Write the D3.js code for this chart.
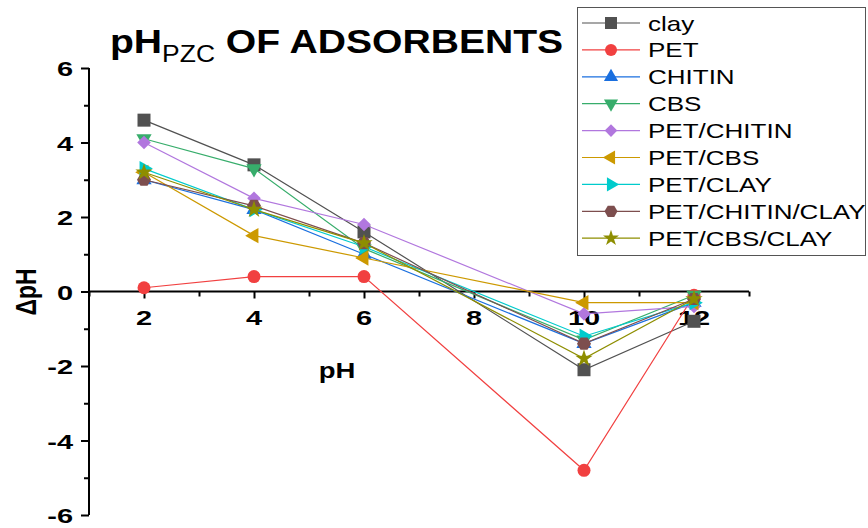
<!DOCTYPE html>
<html>
<head>
<meta charset="utf-8">
<script src="https://d3js.org/d3.v7.min.js"></script>
<style>
  body { margin: 0; background: #fff; }
  text { font-family: "Liberation Sans", Arial, sans-serif; }
</style>
</head>
<body>
<svg width="868" height="528"></svg>
<script>
var phValues = [2, 4, 6, 10, 12];
var seriesNames = ["clay", "PET", "CHITIN", "CBS", "PET/CHITIN", "PET/CBS", "PET/CLAY", "PET/CHITIN/CLAY", "PET/CBS/CLAY"];
var clay = [4.6, 3.4, 1.6, -2.1, -0.8];
var pet = [0.1, 0.4, 0.4, -4.8, -0.1];
var chitin = [3.0, 2.2, 1.0, -1.4, -0.3];
var cbs = [4.1, 3.3, 1.15, -1.3, -0.1];
var petChitin = [4.0, 2.5, 1.8, -0.6, -0.4];
var petCbs = [3.2, 1.5, 0.9, -0.3, -0.3];
var petClay = [3.3, 2.2, 1.2, -1.2, -0.3];
var petChitinClay = [3.0, 2.3, 1.3, -1.4, -0.2];
var petCbsClay = [3.2, 2.2, 1.3, -1.8, -0.2];
var allValues = [clay, pet, chitin, cbs, petChitin, petCbs, petClay, petChitinClay, petCbsClay];
var xTicks = [2, 4, 6, 8, 10, 12];
var yTicks = [-6, -4, -2, 0, 2, 4, 6];

var colors = ["#515151", "#F14040", "#1A6FDF", "#37AD6B", "#B177DE", "#CC9900", "#00CBCC", "#7D4E4E", "#8E8E00"];
var markers = ["square", "circle", "up", "down", "diamond", "left", "right", "hex", "star"];

var svg = d3.select("svg");
var x = d3.scaleLinear().domain([1, 13]).range([89, 749]);
var y = d3.scaleLinear().domain([-6, 6]).range([515, 68]);

function markerPath(kind, size) {
  if (kind === "square") return d3.symbol(d3.symbolSquare, size * size)();
  if (kind === "circle") return d3.symbol(d3.symbolCircle, Math.PI * size * size / 4)();
  if (kind === "diamond") return d3.symbol(d3.symbolSquare, size * size * 0.55)();
  if (kind === "star") return d3.symbol(d3.symbolStar, size * size * 0.55)();
  if (kind === "hex") {
    var r = size / 2 + 0.5, pts = [];
    for (var i = 0; i < 6; i++) {
      var a = Math.PI / 3 * i;
      pts.push([r * Math.cos(a), r * Math.sin(a)]);
    }
    return "M" + pts.join("L") + "Z";
  }
  return d3.symbol(d3.symbolTriangle, size * size * 0.6)();
}
function markerRot(kind) {
  return { down: 180, left: -90, right: 90, diamond: 45 }[kind] || 0;
}

// text that is stretched wider, like the original export
function wideText(px, py, sx, size, bold, anchor, str) {
  return svg.append("text")
    .attr("transform", "translate(" + px + "," + py + ") scale(" + sx + ",1)")
    .attr("text-anchor", anchor)
    .style("font-size", size + "px").style("font-weight", bold ? "bold" : "normal")
    .text(str);
}

// axes
var xAxis = svg.append("g").attr("transform", "translate(0," + y(0) + ")");
xAxis.call(d3.axisBottom(x).tickValues(d3.range(1, 14)).tickSize(5).tickFormat(""));
xAxis.selectAll(".tick line").attr("y2", function(d) { return d % 2 === 0 ? 7 : 5; });
xAxis.select(".domain").attr("stroke-width", 2).attr("d", "M89,0H749");
xAxis.selectAll("line").attr("stroke-width", 2);

var yAxis = svg.append("g").attr("transform", "translate(89,0)");
yAxis.call(d3.axisLeft(y).tickValues(d3.range(-6, 7)).tickSize(5).tickFormat(""));
yAxis.selectAll(".tick line").attr("x2", function(d) { return d % 2 === 0 ? -8 : -5; });
yAxis.select(".domain").attr("stroke-width", 2).attr("d", "M0,515V68");
yAxis.selectAll("line").attr("stroke-width", 2);

// tick labels
xTicks.forEach(function(d) { wideText(x(d), y(0) + 33, 1.38, 21, true, "middle", d); });
yTicks.forEach(function(d) { wideText(73, y(d) + 8, 1.38, 21, true, "end", d); });

// axis titles
wideText(337, 378, 1.25, 22, true, "middle", "pH");
svg.append("text").attr("transform", "translate(36,292) rotate(-90) scale(1,1.3)").attr("text-anchor", "middle")
  .style("font-size", "23px").style("font-weight", "bold").text("ΔpH");

// title
var title = svg.append("text").attr("transform", "translate(110,53) scale(1.15,1)")
  .style("font-size", "34px").style("font-weight", "bold");
title.append("tspan").text("pH");
title.append("tspan").attr("dy", 9).style("font-size", "23px").style("font-weight", "normal").text("PZC");
title.append("tspan").attr("dy", -9).text(" OF ADSORBENTS");

// series
var line = d3.line().x(function(d) { return x(d[0]); }).y(function(d) { return y(d[1]); });
allValues.forEach(function(vals, i) {
  var pts = phValues.map(function(p, j) { return [p, vals[j]]; });
  var g = svg.append("g");
  g.append("path").datum(pts).attr("d", line)
    .attr("fill", "none").attr("stroke", colors[i]).attr("stroke-width", 1.2);
  g.selectAll("path.m").data(pts).enter().append("path").attr("class", "m")
    .attr("d", markerPath(markers[i], 13))
    .attr("transform", function(d) { return "translate(" + x(d[0]) + "," + y(d[1]) + ") rotate(" + markerRot(markers[i]) + ")"; })
    .attr("fill", colors[i]);
});

// legend
var legend = svg.append("g");
legend.append("rect").attr("x", 577.5).attr("y", 7.5).attr("width", 288).attr("height", 248)
  .attr("fill", "#fff").attr("stroke", "#555").attr("stroke-width", 1);
seriesNames.forEach(function(name, i) {
  var cy = 23 + i * 26.9;
  legend.append("line").attr("x1", 582).attr("x2", 640).attr("y1", cy).attr("y2", cy)
    .attr("stroke", colors[i]).attr("stroke-width", 1.2);
  legend.append("path").attr("d", markerPath(markers[i], 12))
    .attr("transform", "translate(611," + cy + ") rotate(" + markerRot(markers[i]) + ")")
    .attr("fill", colors[i]);
  legend.append("text").attr("transform", "translate(648," + (cy + 7.5) + ") scale(1.3,1)")
    .style("font-size", "20px").text(name);
});
</script>
</body>
</html>
